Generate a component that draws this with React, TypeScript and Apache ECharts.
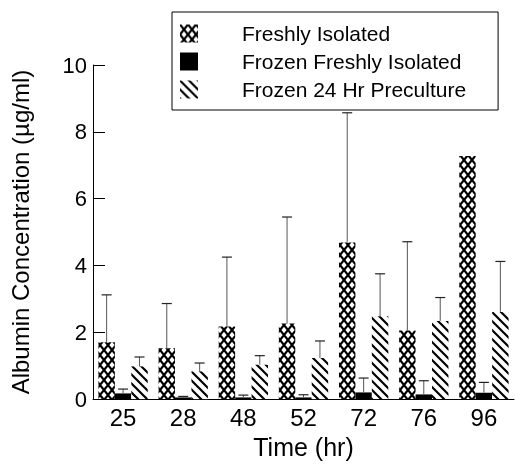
import React, { useEffect, useRef } from "react";
import * as echarts from "echarts";

const categories = ["25", "28", "48", "52", "72", "76", "96"];
const seriesNames = ["Freshly Isolated", "Frozen Freshly Isolated", "Frozen 24 Hr Preculture"];
const freshlyIsolated = [1.7, 1.52, 2.17, 2.26, 4.69, 2.05, 7.28];
const frozenFreshly = [0.17, 0.05, 0.05, 0.05, 0.2, 0.14, 0.19];
const frozenPreculture = [0.98, 0.83, 1.03, 1.23, 2.48, 2.34, 2.61];
// upper end of error bars (null = no visible error bar)
const freshlyIsolatedErr = [3.12, 2.86, 4.25, 5.45, 8.57, 4.71, null];
const frozenFreshlyErr = [0.3, 0.08, 0.12, 0.13, 0.63, 0.55, 0.5];
const frozenPrecultureErr = [1.26, 1.08, 1.3, 1.74, 3.75, 3.04, 4.12];
const yTicks = [0, 2, 4, 6, 8, 10];

function makeCross(): HTMLCanvasElement {
  const w = 8;
  const h = 10;
  const c = document.createElement("canvas");
  c.width = w;
  c.height = h;
  const ctx = c.getContext("2d")!;
  ctx.fillStyle = "#fff";
  ctx.fillRect(0, 0, w, h);
  ctx.strokeStyle = "#000";
  ctx.lineWidth = 2.2;
  ctx.beginPath();
  ctx.moveTo(-0.8, -1);
  ctx.lineTo(w + 0.8, h + 1);
  ctx.moveTo(w + 0.8, -1);
  ctx.lineTo(-0.8, h + 1);
  ctx.stroke();
  return c;
}

function makeHatch(): HTMLCanvasElement {
  const c = document.createElement("canvas");
  c.width = 9;
  c.height = 9;
  const ctx = c.getContext("2d")!;
  ctx.fillStyle = "#fff";
  ctx.fillRect(0, 0, 9, 9);
  ctx.strokeStyle = "#000";
  ctx.lineWidth = 2.2;
  ctx.beginPath();
  ctx.moveTo(-2, -2);
  ctx.lineTo(11, 11);
  ctx.moveTo(-11, -2);
  ctx.lineTo(2, 11);
  ctx.moveTo(7, -2);
  ctx.lineTo(20, 11);
  ctx.stroke();
  return c;
}

export default function App() {
  const ref = useRef<HTMLDivElement>(null);
  useEffect(() => {
    if (!ref.current) return;
    const chart = echarts.init(ref.current, null, { renderer: "svg", width: 515, height: 464 });
    const crossPattern = { image: makeCross(), repeat: "repeat" };
    const hatchPattern = { image: makeHatch(), repeat: "repeat" };
    const values = [freshlyIsolated, frozenFreshly, frozenPreculture];
    const errs = [freshlyIsolatedErr, frozenFreshlyErr, frozenPrecultureErr];
    const errData: any[] = [];
    values.forEach((vals, s) => {
      vals.forEach((v, i) => {
        const e = errs[s][i];
        if (e != null) errData.push([i, s, v, e]);
      });
    });
    const font = "'Liberation Sans', Arial, Helvetica, sans-serif";
    const gapRatio = 0.18;
    chart.setOption({
      animation: false,
      textStyle: { fontFamily: font, color: "#000" },
      grid: { left: 91, width: 423, top: 65, height: 339, containLabel: false },
      legend: {
        orient: "vertical",
        left: 172,
        top: 12,
        padding: [11, 32, 10, 8],
        itemGap: 7,
        itemWidth: 18,
        itemHeight: 18,
        icon: "rect",
        borderColor: "#000",
        borderWidth: 1,
        borderRadius: 0,
        textStyle: { fontSize: 21, color: "#000", fontFamily: font, padding: [0, 0, 0, 39], lineHeight: 19 },
        data: seriesNames,
      },
      xAxis: {
        type: "category",
        data: categories,
        axisLine: { lineStyle: { color: "#000", width: 1 } },
        axisTick: { inside: true, length: 13, lineStyle: { color: "#000" } },
        axisLabel: { fontSize: 24, color: "#000", margin: 6, fontFamily: font },
        name: "Time (hr)",
        nameLocation: "middle",
        nameGap: 34,
        nameTextStyle: { fontSize: 25, color: "#000", fontFamily: font },
      },
      yAxis: {
        type: "value",
        min: yTicks[0],
        max: yTicks[yTicks.length - 1],
        interval: 2,
        splitLine: { show: false },
        axisLine: { show: true, lineStyle: { color: "#000", width: 1 } },
        axisTick: { show: true, inside: true, length: 12, lineStyle: { color: "#000" } },
        axisLabel: { fontSize: 22, color: "#000", margin: 6, fontFamily: font },
        name: "Albumin Concentration (µg/ml)",
        nameLocation: "middle",
        nameGap: 61,
        nameTextStyle: { fontSize: 24, color: "#000", fontFamily: font },
      },
      series: [
        {
          name: seriesNames[0],
          type: "bar",
          data: freshlyIsolated,
          barGap: "0%",
          barCategoryGap: gapRatio * 100 + "%",
          itemStyle: { color: crossPattern },
        },
        {
          name: seriesNames[1],
          type: "bar",
          data: frozenFreshly,
          barGap: "0%",
          barCategoryGap: gapRatio * 100 + "%",
          itemStyle: { color: "#000" },
        },
        {
          name: seriesNames[2],
          type: "bar",
          data: frozenPreculture,
          barGap: "0%",
          barCategoryGap: gapRatio * 100 + "%",
          itemStyle: { color: hatchPattern },
        },
        {
          type: "custom",
          data: errData,
          z: 5,
          renderItem: (params: any, api: any) => {
            const cat = api.value(0);
            const s = api.value(1);
            const band = api.size([1, 0])[0];
            const bw = (band * (1 - gapRatio)) / 3;
            const base = api.coord([cat, api.value(2)]);
            const top = api.coord([cat, api.value(3)]);
            const x = base[0] + (s - 1) * bw;
            const cap = 5;
            return {
              type: "group",
              children: [
                {
                  type: "line",
                  shape: { x1: x, y1: base[1], x2: x, y2: top[1] },
                  style: { stroke: "#555", lineWidth: 1 },
                },
                {
                  type: "line",
                  shape: { x1: x - cap, y1: top[1], x2: x + cap, y2: top[1] },
                  style: { stroke: "#222", lineWidth: 1.2 },
                },
              ],
            };
          },
        },
      ],
    });
    return () => chart.dispose();
  }, []);
  return <div ref={ref} style={{ position: "fixed", left: 0, top: 0, width: 515, height: 464 }} />;
}
